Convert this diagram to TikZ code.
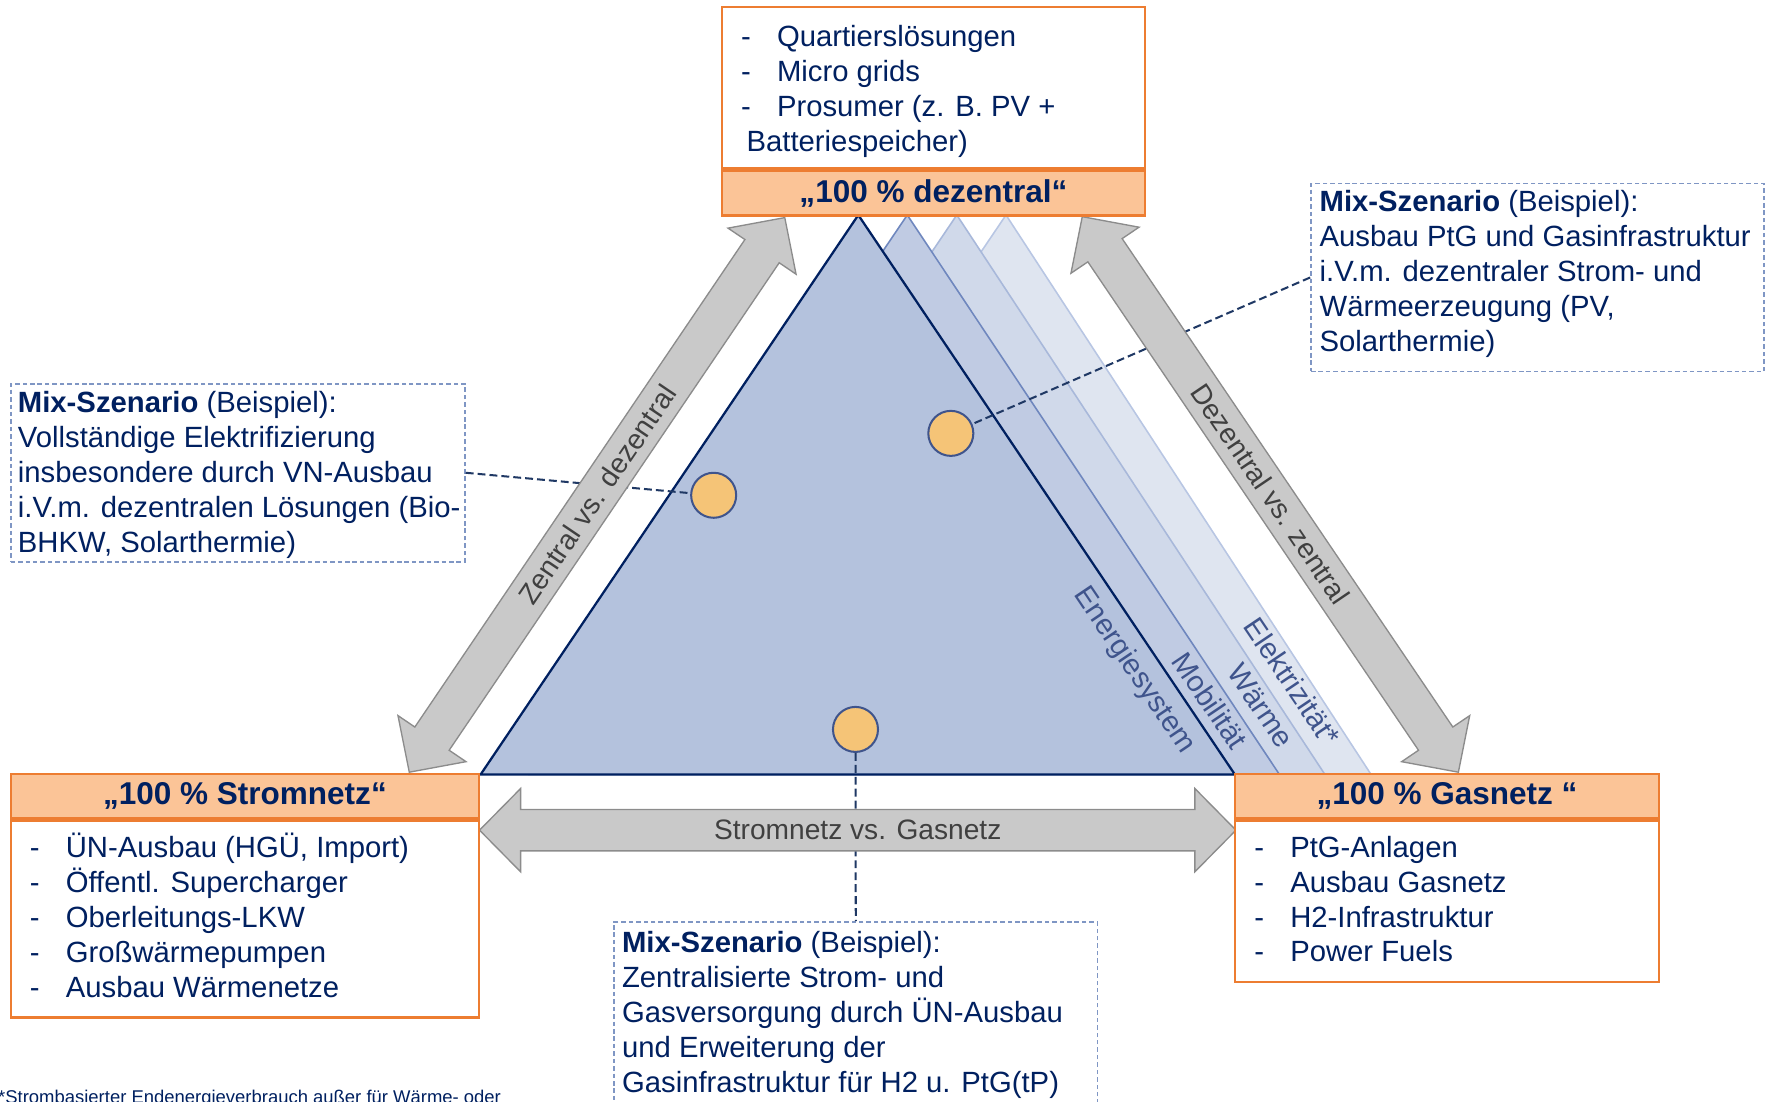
\documentclass[tikz,border=0pt]{standalone}
\usepackage{fontspec}
\setmainfont{Liberation Sans}
\usepackage{tikz}
\usepackage{xcolor}
\usetikzlibrary{positioning}

\definecolor{textnavy}{RGB}{0,32,96}
\definecolor{orangeline}{RGB}{237,125,49}
\definecolor{peach}{RGB}{251,196,151}
\definecolor{mixblue}{RGB}{127,150,196}
\definecolor{linknavy}{RGB}{31,56,100}
\definecolor{dotfill}{RGB}{245,196,119}
\definecolor{dotline}{RGB}{63,84,140}
\definecolor{arrowfill}{RGB}{201,201,201}
\definecolor{arrowline}{RGB}{140,140,140}
\definecolor{arrowtext}{RGB}{64,64,64}
\definecolor{layerone}{RGB}{180,194,221}
\definecolor{layertwo}{RGB}{192,203,227}
\definecolor{layerthree}{RGB}{208,217,234}
\definecolor{layerfour}{RGB}{223,229,240}
\definecolor{edgetwo}{RGB}{111,135,190}
\definecolor{edgethree}{RGB}{168,184,218}
\definecolor{edgefour}{RGB}{184,198,227}
\definecolor{layertext}{RGB}{63,84,140}

\newcommand{\itemdash}{\makebox[16pt][l]{-}}

\begin{document}
\begin{tikzpicture}[x=0.5pt, y=-0.5pt]
            % Define styles
            \tikzstyle{headbox} = [rectangle, draw=orangeline, line width=1pt, fill=peach, inner sep=0pt, text=textnavy, font=\fontsize{14}{16}\selectfont\bfseries]
            \tikzstyle{listbox} = [rectangle, draw=orangeline, line width=1pt, fill=white, inner sep=0pt]
            \tikzstyle{mixbox} = [rectangle, draw=mixblue, line width=0.75pt, dash pattern=on 2pt off 1.3pt, fill=white, inner sep=0pt]
            \tikzstyle{bodytext} = [align=left, inner sep=0pt, text=textnavy, font=\fontsize{13}{15.5}\selectfont]
            \tikzstyle{scenariodot} = [circle, draw=dotline, fill=dotfill, line width=0.9pt, minimum size=20pt, inner sep=0pt]
            \tikzstyle{linkline} = [draw=linknavy, line width=0.9pt, dash pattern=on 3.5pt off 1.8pt]
            \tikzstyle{grayarrow} = [fill=arrowfill, draw=arrowline, line width=0.6pt, line join=miter]
            \tikzstyle{arrowlabel} = [inner sep=0pt, text=arrowtext, font=\fontsize{12.5}{14}\selectfont]
            \tikzstyle{layerlabel} = [inner sep=0pt, rotate=-56, text=layertext, font=\fontsize{13}{15}\selectfont]

            \useasboundingbox (0,0) rectangle (1568,979);

            % Layered triangles (back to front)
            \draw [fill=layerfour, draw=edgefour, line width=0.7pt] (893.7,191) -- (1218,688) -- (558,688) -- cycle;
            \draw [fill=layerthree, draw=edgethree, line width=0.7pt] (850,191) -- (1177,688) -- (514.5,688) -- cycle;
            \draw [fill=layertwo, draw=edgetwo, line width=0.7pt] (806,191) -- (1136.6,688) -- (470.5,688) -- cycle;
            \draw [fill=layerone, draw=textnavy, line width=1pt] (762.5,191) -- (1097,688) -- (427,688) -- cycle;

            \node (energie) [layerlabel] at (1007.5,595.8) {Energiesystem};
            \node (mobil) [layerlabel] at (1075,622.5) {Mobilität};
            \node (waerme) [layerlabel] at (1120,627) {Wärme};
            \node (elektro) [layerlabel] at (1148,605.6) {Elektrizität*};

            % Mix scenarios
            \node (mixleft) [mixbox, minimum width=201.75pt, minimum height=79pt] at (211.25,420) {};
            \node (mixright) [mixbox, minimum width=201.1pt, minimum height=83.5pt] at (1365.8,246.5) {};
            \node (mixbottom) [mixbox, minimum width=214.75pt, minimum height=90.5pt] at (760.25,909.5) {};

            \node (dotleft) [scenariodot] at (634,440) {};
            \node (dotright) [scenariodot] at (844.7,385) {};
            \node (dotbottom) [scenariodot] at (760,648) {};

            \draw [linkline] (mixleft.east) -- (dotleft);
            \draw [linkline] (mixright.west) -- (dotright);
            \draw [linkline] (dotbottom) -- (mixbottom.north);

            % Gray double arrows
            \begin{scope}[shift={(363.6,686)}, rotate=55.9]
                \draw [grayarrow] (0,0) -- (36,-36.5) -- (36,-18.4) -- (559,-18.4) -- (559,-36.5) -- (595,0) -- (559,36.5) -- (559,18.4) -- (36,18.4) -- (36,36.5) -- cycle;
            \end{scope}
            \begin{scope}[shift={(1295.6,686)}, rotate=124.1]
                \draw [grayarrow] (0,0) -- (36,-36.5) -- (36,-18.4) -- (560,-18.4) -- (560,-36.5) -- (596,0) -- (560,36.5) -- (560,18.4) -- (36,18.4) -- (36,36.5) -- cycle;
            \end{scope}
            \draw [grayarrow] (426,737.5) -- (462.5,700.5) -- (462.5,719.1) -- (1061.5,719.1) -- (1061.5,700.5) -- (1098,737.5) -- (1061.5,774.5) -- (1061.5,755.9) -- (462.5,755.9) -- (462.5,774.5) -- cycle;

            \node (zdlabel) [arrowlabel, rotate=55.9] at (530.5,439.5) {Zentral vs. dezentral};
            \node (dzlabel) [arrowlabel, rotate=-55.9] at (1128.7,438.7) {Dezentral vs. zentral};
            \node (sglabel) [arrowlabel] at (762,737.5) {Stromnetz vs. Gasnetz};

            % Corner boxes
            \node (dzlist) [listbox, minimum width=188pt, minimum height=71.65pt] at (829.3,77.85) {};
            \node (dzhead) [headbox, minimum width=188pt, minimum height=20pt, below=0pt of dzlist] {\raisebox{0.8pt}{„100~\%~dezentral“}};

            \node (snhead) [headbox, minimum width=208.1pt, minimum height=19.6pt] at (217.6,707.4) {„100~\%~Stromnetz“};
            \node (snlist) [listbox, minimum width=208.1pt, minimum height=87.45pt, below=0pt of snhead] {};

            \node (gnhead) [headbox, minimum width=188.25pt, minimum height=19.6pt] at (1285.5,707.4) {„100~\%~Gasnetz~“};
            \node (gnlist) [listbox, minimum width=188.25pt, minimum height=71.8pt, below=0pt of gnhead] {};

            % Texts
            \node (dztext) [bodytext, anchor=west, xshift=8.8pt, yshift=-1.75pt] at (dzlist.west) {\itemdash Quartierslösungen\\ \itemdash Micro grids\\ \itemdash Prosumer (z. B. PV +\\ \hspace*{2.5pt}Batteriespeicher)};
            \node (sntext) [bodytext, anchor=west, xshift=8.8pt, yshift=1.5pt] at (snlist.west) {\itemdash ÜN-Ausbau (HGÜ, Import)\\ \itemdash Öffentl. Supercharger\\ \itemdash Oberleitungs-LKW\\ \itemdash Großwärmepumpen\\ \itemdash Ausbau Wärmenetze};
            \node (gntext) [bodytext, anchor=west, xshift=8.8pt, yshift=1pt] at (gnlist.west) {\itemdash PtG-Anlagen\\ \itemdash Ausbau Gasnetz\\ \itemdash H2-Infrastruktur\\ \itemdash Power Fuels};

            \node (mixlefttext) [bodytext, anchor=west, xshift=3.4pt, yshift=-1pt] at (mixleft.west) {\textbf{Mix-Szenario} (Beispiel):\\ Vollständige Elektrifizierung\\ insbesondere durch VN-Ausbau\\ i.V.m. dezentralen Lösungen (Bio-\\ BHKW, Solarthermie)};
            \node (mixrighttext) [bodytext, anchor=west, xshift=4pt, yshift=1.5pt] at (mixright.west) {\textbf{Mix-Szenario} (Beispiel):\\ Ausbau PtG und Gasinfrastruktur\\ i.V.m. dezentraler Strom- und\\ Wärmeerzeugung (PV,\\ Solarthermie)};
            \node (mixbottomtext) [bodytext, anchor=north west, xshift=3.75pt, yshift=-4.5pt] at (mixbottom.north west) {\textbf{Mix-Szenario} (Beispiel):\\ Zentralisierte Strom- und\\ Gasversorgung durch ÜN-Ausbau\\ und Erweiterung der\\ Gasinfrastruktur für H2 u. PtG(tP)};

            \node (footnote) [anchor=base west, inner sep=0pt, text=textnavy, font=\fontsize{8.2}{10}\selectfont] at (-2,980.5) {*Strombasierter Endenergieverbrauch außer für Wärme- oder};
        \end{tikzpicture}
\end{document}
